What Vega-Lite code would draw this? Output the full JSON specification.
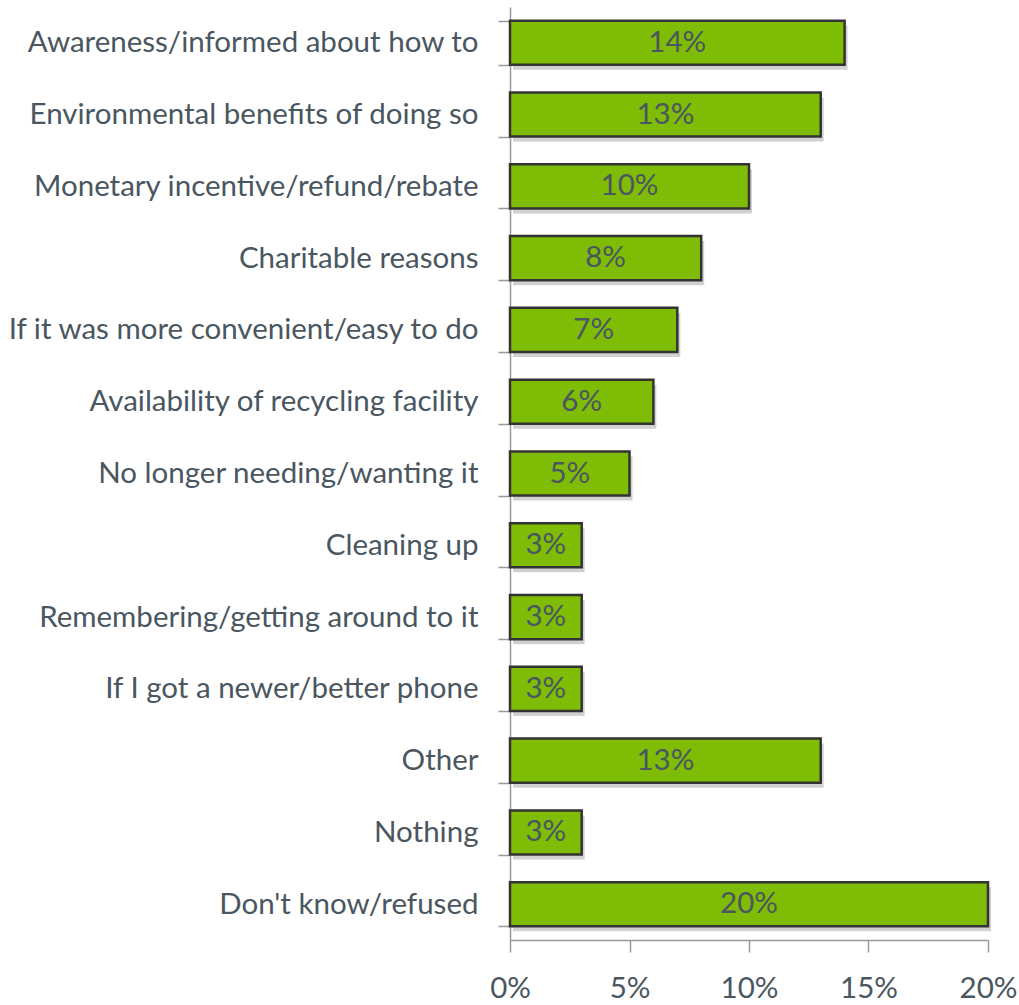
{
  "$schema": "https://vega.github.io/schema/vega-lite/v6.json",
  "width": 478,
  "height": 933,
  "autosize": {"type": "none"},
  "padding": {"left": 510, "top": 7, "right": 31, "bottom": 65},
  "background": "white",
  "config": {"view": {"stroke": null}, "font": "Lato"},
  "data": {"values": [
    {"reason": "Awareness/informed about how to", "share": 0.14},
    {"reason": "Environmental benefits of doing so", "share": 0.13},
    {"reason": "Monetary incentive/refund/rebate", "share": 0.10},
    {"reason": "Charitable reasons", "share": 0.08},
    {"reason": "If it was more convenient/easy to do", "share": 0.07},
    {"reason": "Availability of recycling facility", "share": 0.06},
    {"reason": "No longer needing/wanting it", "share": 0.05},
    {"reason": "Cleaning up", "share": 0.03},
    {"reason": "Remembering/getting around to it", "share": 0.03},
    {"reason": "If I got a newer/better phone", "share": 0.03},
    {"reason": "Other", "share": 0.13},
    {"reason": "Nothing", "share": 0.03},
    {"reason": "Don't know/refused", "share": 0.20}
  ]},
  "encoding": {
    "y": {"field": "reason", "type": "nominal", "sort": null,
      "scale": {"paddingInner": 0.385, "paddingOuter": 0.19},
      "axis": {"title": null, "domainColor": "#999999", "domainWidth": 1.5, "tickColor": "#999999", "tickWidth": 1.5, "tickSize": 12, "tickBand": "extent",
        "labelFont": "Lato", "labelFontSize": 29.5, "labelColor": "#4a5660", "labelPadding": 20, "labelLimit": 600}},
    "x": {"field": "share", "type": "quantitative",
      "scale": {"domain": [0, 0.2], "nice": false},
      "axis": {"title": null, "format": ".0%", "values": [0, 0.05, 0.1, 0.15, 0.2], "grid": false,
        "domainColor": "#999999", "domainWidth": 1.5, "tickColor": "#999999", "tickWidth": 1.5, "tickSize": 12,
        "labelFont": "Lato", "labelFontSize": 29.5, "labelColor": "#4a5660", "labelPadding": 22, "labelFlush": false}}
  },
  "layer": [
    {"mark": {"type": "bar", "color": "#000000", "opacity": 0.18, "xOffset": 3, "yOffset": 5}},
    {"mark": {"type": "bar", "color": "#7fbc06", "stroke": "#333333", "strokeWidth": 2.5}},
    {"transform": [{"calculate": "datum.share / 2", "as": "mid"}],
      "mark": {"type": "text", "fontSize": 29.5, "font": "Lato", "color": "#4a5660", "baseline": "middle", "align": "center"},
      "encoding": {"x": {"field": "mid", "type": "quantitative"}, "text": {"field": "share", "format": ".0%"}}}
  ]
}
